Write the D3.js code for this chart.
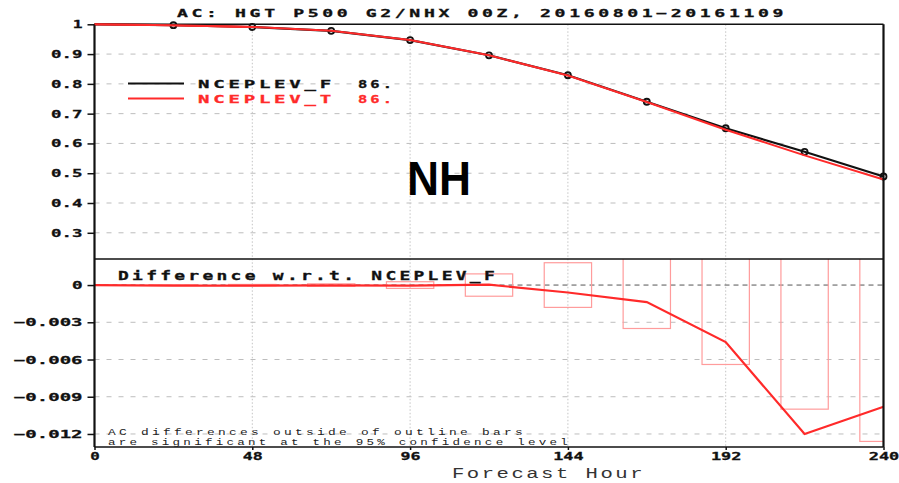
<!DOCTYPE html>
<html><head><meta charset="utf-8">
<script src="https://cdn.jsdelivr.net/npm/d3@7"></script>
<style>
html,body{margin:0;padding:0;background:#fff;}
svg{display:block;}
</style></head>
<body>
<svg id="c" width="899" height="483"></svg>
<script>
// ---------- data ----------
const hours = [0, 24, 48, 72, 96, 120, 144, 168, 192, 216, 240];
const acF = [1.0, 0.997, 0.991, 0.978, 0.947, 0.896, 0.829, 0.740, 0.651, 0.572, 0.489];
const acT = [1.0, 0.997, 0.991, 0.978, 0.947, 0.896, 0.828, 0.739, 0.646, 0.560, 0.479];
const diffT = [0, -0.00005, -0.00005, -0.00003, -0.00005, 0.00003, -0.0006, -0.00137, -0.0046, -0.0120, -0.0098];
const ciHalf = [0, 0.00003, 0.00005, 0.0001, 0.00027, 0.0009, 0.0018, 0.0035, 0.0064, 0.0100, 0.0126];
const xTicks = [0, 48, 96, 144, 192, 240];
const xTickLabels = ["0", "48", "96", "144", "192", "240"];
const yTopTicks = [1, 0.9, 0.8, 0.7, 0.6, 0.5, 0.4, 0.3];
const yTopLabels = ["1", "0.9", "0.8", "0.7", "0.6", "0.5", "0.4", "0.3"];
const yBotTicks = [0, -0.003, -0.006, -0.009, -0.012];
const yBotLabels = ["0", "\u22120.003", "\u22120.006", "\u22120.009", "\u22120.012"];
const seriesNames = ["NCEPLEV_F", "NCEPLEV_T"];
const seriesCounts = ["86.", "86."];
const titleText = "AC: HGT P500 G2/NHX 00Z, 20160801\u221220161109";
const regionText = "NH";
const diffTitle = "Difference w.r.t. NCEPLEV_F";
const noteLines = ["AC differences outside of outline bars", "are significant at the 95% confidence level"];
const xTitle = "Forecast Hour";
const boxHalfHours = 7.2;

// ---------- layout ----------
const L = 94.5, R = 883.5, T = 24.3, MID = 259, B = 447;
const svg = d3.select("#c");
const x = d3.scaleLinear().domain([0, 240]).range([L, R]);
const yT = d3.scaleLinear().domain([0.212, 1]).range([MID, T]);
const yB = d3.scaleLinear().domain([-0.01305, 0.0021]).range([B, MID]);
const MONO = "'DejaVu Sans Mono', 'Liberation Mono', monospace";
const LMONO = "'Liberation Mono', 'DejaVu Sans Mono', monospace";
const RED = "#ff2a2a", BOXRED = "#ff9c9c";

svg.append("defs").append("clipPath").attr("id", "clipB")
  .append("rect").attr("x", L).attr("y", MID).attr("width", R - L).attr("height", B - MID);

// grids
const g = svg.append("g");
g.selectAll(".hgT").data(yTopTicks.filter(d => d < 1)).join("line")
  .attr("x1", L).attr("x2", R).attr("y1", d => yT(d)).attr("y2", d => yT(d))
  .attr("stroke", "#bdbdbd").attr("stroke-width", 1).attr("stroke-dasharray", "5,7");
g.selectAll(".hgB").data(yBotTicks.filter(d => d !== 0)).join("line")
  .attr("x1", L).attr("x2", R).attr("y1", d => yB(d)).attr("y2", d => yB(d))
  .attr("stroke", "#bdbdbd").attr("stroke-width", 1).attr("stroke-dasharray", "5,7");
g.selectAll(".vg").data(xTicks.filter(d => d > 0 && d < 240)).join("line")
  .attr("x1", d => x(d)).attr("x2", d => x(d)).attr("y1", T).attr("y2", B)
  .attr("stroke", "#c4c4c4").attr("stroke-width", 1).attr("stroke-dasharray", "1.5,2");
// zero line
g.append("line").attr("x1", L).attr("x2", R).attr("y1", yB(0)).attr("y2", yB(0))
  .attr("stroke", "#555").attr("stroke-width", 1).attr("stroke-dasharray", "5,4");

// ---------- top panel lines ----------
const lineT = d3.line().x((d, i) => x(hours[i])).y(d => yT(d));
svg.append("path").datum(acF).attr("d", lineT).attr("fill", "none")
  .attr("stroke", "#111").attr("stroke-width", 2.2);
svg.selectAll(".mk").data(acF).join("circle").filter((d, i) => i > 0)
  .attr("cx", (d, i) => x(hours[i + 1])).attr("cy", d => yT(d)).attr("r", 3)
  .attr("fill", "none").attr("stroke", "#111").attr("stroke-width", 1.8);
svg.append("path").datum(acT).attr("d", lineT).attr("fill", "none")
  .attr("stroke", RED).attr("stroke-width", 2);

// ---------- bottom panel ----------
const bp = svg.append("g").attr("clip-path", "url(#clipB)");
bp.selectAll(".box").data(ciHalf.map((c, i) => ({ h: hours[i], c })).filter(d => d.c > 0)).join("rect")
  .attr("x", d => x(d.h - boxHalfHours)).attr("width", d => x(d.h + boxHalfHours) - x(d.h - boxHalfHours))
  .attr("y", d => yB(d.c)).attr("height", d => yB(-d.c) - yB(d.c))
  .attr("fill", "none").attr("stroke", BOXRED).attr("stroke-width", 1.2);
const lineB = d3.line().x((d, i) => x(hours[i])).y(d => yB(d));
bp.append("path").datum(diffT).attr("d", lineB).attr("fill", "none")
  .attr("stroke", RED).attr("stroke-width", 2.2);

// ---------- frame ----------
const fr = svg.append("g").attr("stroke", "#111").attr("fill", "none");
fr.append("line").attr("x1", L).attr("x2", R).attr("y1", T).attr("y2", T).attr("stroke-width", 1.5);
fr.append("line").attr("x1", L).attr("x2", R).attr("y1", MID).attr("y2", MID).attr("stroke-width", 1.5);
fr.append("line").attr("x1", L).attr("x2", R).attr("y1", B).attr("y2", B).attr("stroke-width", 1.5);
fr.append("line").attr("x1", L).attr("x2", L).attr("y1", T).attr("y2", B).attr("stroke-width", 2.2);
fr.append("line").attr("x1", R).attr("x2", R).attr("y1", T).attr("y2", B).attr("stroke-width", 2.2);
// red line at value 1 drawn over the top border
svg.append("path").datum(acT.slice(0, 3)).attr("d", lineT).attr("fill", "none")
  .attr("stroke", RED).attr("stroke-width", 2);

// ---------- axes ----------
function styleAxis(sel, labels, charW) {
  sel.select(".domain").remove();
  sel.selectAll(".tick line").attr("stroke", "#111").attr("stroke-width", 1.5);
  sel.selectAll(".tick text")
    .text((d, i) => labels[i])
    .attr("font-family", MONO).attr("font-weight", "bold").attr("font-size", 11).attr("fill", "#111")
    .attr("stroke", "#111").attr("stroke-width", 0.3)
    .attr("textLength", (d, i) => labels[i].length * charW - 1)
    .attr("lengthAdjust", "spacingAndGlyphs");
}
svg.append("g").attr("transform", `translate(${L},0)`)
  .call(d3.axisLeft(yT).tickValues(yTopTicks).tickSize(7).tickPadding(5))
  .call(s => styleAxis(s, yTopLabels, 10.8));
svg.append("g").attr("transform", `translate(${L},0)`)
  .call(d3.axisLeft(yB).tickValues(yBotTicks).tickSize(7).tickPadding(5))
  .call(s => styleAxis(s, yBotLabels, 11.6));
svg.append("g").attr("transform", `translate(0,${B})`)
  .call(d3.axisBottom(x).tickValues(xTicks).tickSize(3).tickPadding(2))
  .call(s => styleAxis(s, xTickLabels, 10.5));

// ---------- texts ----------
function txt(str, xx, yy, size, len, opts = {}) {
  const t = svg.append("text").attr("x", xx).attr("y", yy).text(str)
    .attr("font-family", opts.family || MONO)
    .attr("font-weight", opts.weight || "bold")
    .attr("font-size", size)
    .attr("fill", opts.fill || "#111");
  if (opts.stroke) t.attr("stroke", opts.fill || "#111").attr("stroke-width", opts.stroke);
  if (opts.ls) t.attr("letter-spacing", opts.ls);
  if (len) t.attr("textLength", len).attr("lengthAdjust", opts.adjust || "spacingAndGlyphs");
  if (opts.anchor) t.attr("text-anchor", opts.anchor);
  return t;
}
txt(titleText, 177, 16.5, 11, 610, { stroke: 0.3, ls: 2.2 });
// legend
const legY = [83.5, 98.5];
const legCol = ["#111", RED];
seriesNames.forEach((n, i) => {
  svg.append("line").attr("x1", 128).attr("x2", 184).attr("y1", legY[i]).attr("y2", legY[i])
    .attr("stroke", legCol[i]).attr("stroke-width", i === 0 ? 2.2 : 2);
  txt(n, 198, legY[i] + 4, 11, 137, { fill: legCol[i], stroke: 0.3, ls: 2.2 });
  txt(seriesCounts[i], 358, legY[i] + 4, 11, 37, { fill: legCol[i], stroke: 0.3, ls: 2.2 });
});
txt(regionText, 407, 195, 48, 64, { family: "'Liberation Sans', Arial, sans-serif", fill: "#000" });
txt(diffTitle, 118, 279.5, 12, 380, { stroke: 0.3, ls: 2.2 });
txt(noteLines[0], 108, 435, 8.5, 418, { family: LMONO, weight: "normal", fill: "#222", ls: 2.2 });
txt(noteLines[1], 108, 445, 8.5, 463, { family: LMONO, weight: "normal", fill: "#222", ls: 2.2 });
txt(xTitle, 452, 477.5, 14, 193, { family: LMONO, weight: "normal", fill: "#333", ls: 1.7 });
</script>
</body></html>
